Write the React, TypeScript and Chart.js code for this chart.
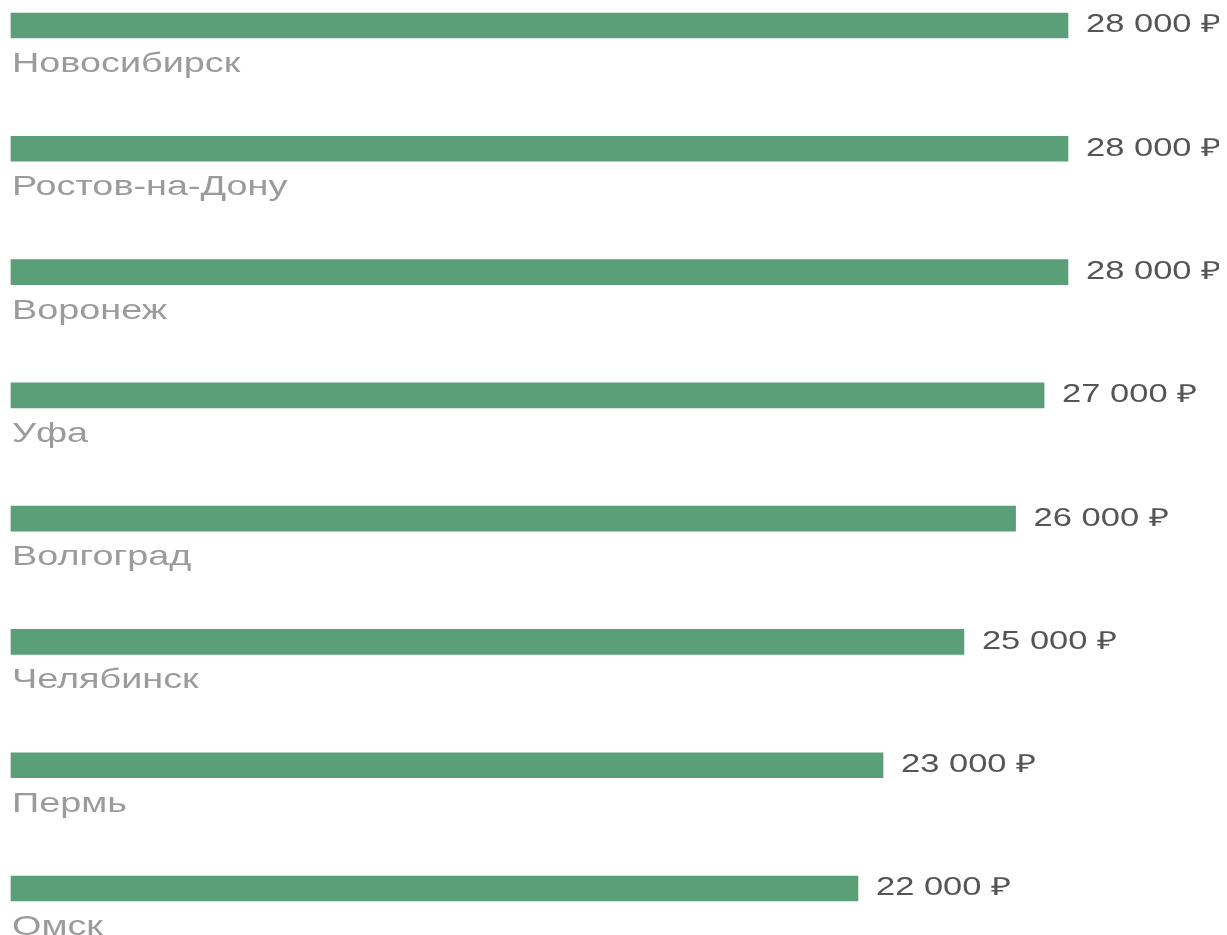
import React, { useEffect, useRef } from "react";
import { Chart, registerables } from "chart.js";

Chart.register(...registerables);

const cities = [
  "Новосибирск",
  "Ростов-на-Дону",
  "Воронеж",
  "Уфа",
  "Волгоград",
  "Челябинск",
  "Пермь",
  "Омск",
];

// bar lengths (rubles)
const salaries = [27830, 27830, 27830, 27200, 26450, 25090, 22960, 22300];

// value labels as printed next to the bars
const valueLabels = [
  "28 000 ₽",
  "28 000 ₽",
  "28 000 ₽",
  "27 000 ₽",
  "26 000 ₽",
  "25 000 ₽",
  "23 000 ₽",
  "22 000 ₽",
];

const BAR_COLOR = "#5b9f79";
const LABEL_COLOR = "#9b9b9b";
const VALUE_COLOR = "#555555";
const LABEL_STRETCH = 1.35;
const VALUE_STRETCH = 1.38;

const labelPlugin = {
  id: "barLabels",
  afterDatasetsDraw(chart: any) {
    const ctx = chart.ctx;
    const meta = chart.getDatasetMeta(0);
    meta.data.forEach((bar: any, i: number) => {
      const props = bar.getProps(["x", "y", "base", "height"], true);
      const half = props.height / 2;
      // category label below bar
      ctx.save();
      ctx.fillStyle = LABEL_COLOR;
      ctx.font = "28px 'Liberation Sans', Arial, sans-serif";
      ctx.textAlign = "left";
      ctx.textBaseline = "alphabetic";
      ctx.translate(props.base + 1, props.y + half + 34);
      ctx.scale(LABEL_STRETCH, 1);
      ctx.fillText(chart.data.labels[i], 0, 0);
      ctx.restore();
      // value label right of bar
      ctx.save();
      ctx.fillStyle = VALUE_COLOR;
      ctx.font = "25px 'Liberation Sans', Arial, sans-serif";
      ctx.textAlign = "left";
      ctx.textBaseline = "middle";
      ctx.translate(props.x + 18, props.y);
      ctx.scale(VALUE_STRETCH, 1);
      ctx.fillText(valueLabels[i], 0, 0);
      ctx.restore();
    });
  },
};

export default function App() {
  const ref = useRef<HTMLCanvasElement | null>(null);
  useEffect(() => {
    if (!ref.current) return;
    const chart = new Chart(ref.current, {
      type: "bar",
      data: {
        labels: cities,
        datasets: [
          {
            data: salaries,
            backgroundColor: BAR_COLOR,
            borderWidth: 0,
            barThickness: 25,
            clip: false,
          } as any,
        ],
      },
      options: {
        indexAxis: "y",
        animation: false,
        responsive: true,
        maintainAspectRatio: false,
        layout: { padding: { left: 3, right: 30.6, top: 17.5, bottom: 46.5 } },
        plugins: { legend: { display: false }, tooltip: { enabled: false } },
        scales: {
          x: { type: "linear", min: 0, max: 31000, display: false },
          y: { type: "category", offset: false, display: false },
        },
      },
      plugins: [labelPlugin],
    });
    return () => chart.destroy();
  }, []);
  return (
    <div style={{ width: "100%", height: "927px", position: "relative" }}>
      <canvas ref={ref} />
    </div>
  );
}
